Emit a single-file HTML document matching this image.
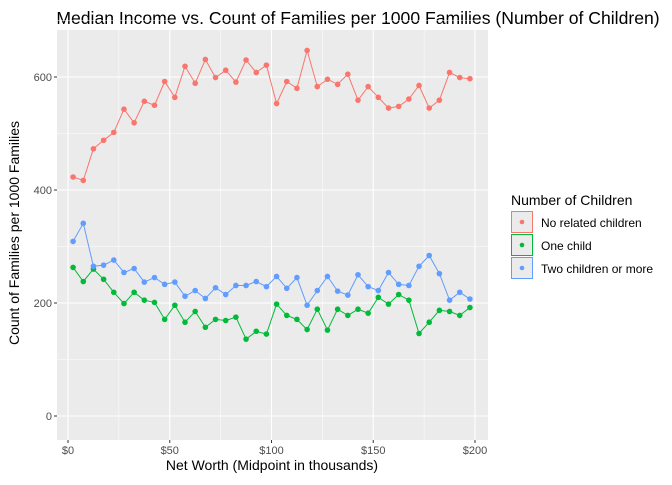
<!DOCTYPE html>
<html><head><meta charset="utf-8"><style>
body{margin:0;background:#fff;}
svg text{font-family:"Liberation Sans",Arial,sans-serif;}
</style></head><body>
<svg width="672" height="480" xmlns="http://www.w3.org/2000/svg">
<rect x="0" y="0" width="672" height="480" fill="#fff"/>
<text x="358" y="24" font-size="17.6" text-anchor="middle" fill="#000">Median Income vs. Count of Families per 1000 Families (Number of Children)</text>
<rect x="57" y="30" width="431" height="410" fill="#ebebeb"/>
<g id="grid"></g>
<g id="series"></g>
<g id="axes"></g>
<text x="272" y="470" font-size="14" text-anchor="middle" fill="#000">Net Worth (Midpoint in thousands)</text>
<text transform="translate(19,233) rotate(-90)" font-size="14" text-anchor="middle" fill="#000">Count of Families per 1000 Families</text>
<g>
<text x="511" y="205" font-size="14" fill="#000">Number of Children</text>
<g>
<rect x="511.5" y="211.5" width="21" height="21" fill="#ebebeb" stroke="#F8766D"/>
<circle cx="522" cy="222" r="2.3" fill="#F8766D"/>
<text x="541" y="227" font-size="12" fill="#000">No related children</text></g>
<g>
<rect x="511.5" y="234.5" width="21" height="21" fill="#ebebeb" stroke="#00BA38"/>
<circle cx="522" cy="245" r="2.3" fill="#00BA38"/>
<text x="541" y="250" font-size="12" fill="#000">One child</text></g>
<g>
<rect x="511.5" y="257.5" width="21" height="21" fill="#ebebeb" stroke="#619CFF"/>
<circle cx="522" cy="268" r="2.3" fill="#619CFF"/>
<text x="541" y="273" font-size="12" fill="#000">Two children or more</text></g>
</g>
</svg>
<script>
const xValues = [2.5,7.5,12.5,17.5,22.5,27.5,32.5,37.5,42.5,47.5,52.5,57.5,62.5,67.5,72.5,77.5,82.5,87.5,92.5,97.5,102.5,107.5,112.5,117.5,122.5,127.5,132.5,137.5,142.5,147.5,152.5,157.5,162.5,167.5,172.5,177.5,182.5,187.5,192.5,197.5];
const noChildren = [423,417,473,488,502,543,519,557,550,592,564,619,589,631,599,612,591,630,608,621,553,592,580,647,583,596,587,605,559,583,564,545,548,561,585,545,559,608,599,597];
const oneChild = [263,238,260,242,219,199,219,205,201,171,196,166,185,157,171,169,175,136,150,145,198,178,171,153,189,152,189,178,189,182,210,198,215,205,146,166,187,185,178,192];
const twoOrMore = [309,341,265,267,276,254,261,237,245,233,237,212,222,208,227,215,231,231,238,229,247,226,245,196,222,247,221,214,250,229,222,254,233,231,265,284,252,205,219,207];
const yTicks = [0,200,400,600];
const yTickLabels = ["0","200","400","600"];
const xTicks = [0,50,100,150,200];
const xTickLabels = ["$0","$50","$100","$150","$200"];

const NS="http://www.w3.org/2000/svg";
const px0=57, px1=488, py0=30, py1=440;
const xScale = v => 68 + v*(475-68)/200;
const yScale = v => 416 - v*(416-303)/200;
function mk(tag, attrs, parent){const e=document.createElementNS(NS,tag);for(const k in attrs)e.setAttribute(k,attrs[k]);parent.appendChild(e);return e;}
const grid=document.getElementById('grid'), axes=document.getElementById('axes'), ser=document.getElementById('series');
for(let i=0;i<xTicks.length-1;i++){const v=(xTicks[i]+xTicks[i+1])/2;const l=mk('line',{x1:xScale(v),x2:xScale(v),y1:py0,y2:py1,stroke:'#fff','stroke-width':0.5},grid);

}
for(let i=0;i<yTicks.length;i++){const v=yTicks[i]+100;const l=mk('line',{x1:px0,x2:px1,y1:yScale(v),y2:yScale(v),stroke:'#fff','stroke-width':0.5},grid);

}
xTicks.forEach((v,i)=>{const x=xScale(v);
const l=mk('line',{x1:x,x2:x,y1:py0,y2:py1,stroke:'#fff','stroke-width':1.1},grid);


mk('line',{x1:x,x2:x,y1:py1,y2:py1+3,stroke:'#333','stroke-width':1},axes);
const t=mk('text',{x:x,y:py1+14,'font-size':11,'text-anchor':'middle',fill:'#4d4d4d'},axes);t.textContent=xTickLabels[i];

});
yTicks.forEach((v,i)=>{const y=yScale(v);
const l=mk('line',{x1:px0,x2:px1,y1:y,y2:y,stroke:'#fff','stroke-width':1.1},grid);


mk('line',{x1:px0-3,x2:px0,y1:y,y2:y,stroke:'#333','stroke-width':1},axes);
const t=mk('text',{x:px0-5,y:y+4,'font-size':11,'text-anchor':'end',fill:'#4d4d4d'},axes);t.textContent=yTickLabels[i];

});
function drawSeries(vals,color,name){
const g=mk('g',{},ser);


const pts=vals.map((v,i)=>xScale(xValues[i]).toFixed(1)+','+yScale(v).toFixed(1)).join(' ');
const pl=mk('polyline',{points:pts,fill:'none',stroke:color,'stroke-width':1},g);


vals.forEach((v,i)=>{const c=mk('circle',{cx:xScale(xValues[i]),cy:yScale(v),r:2.8,fill:color},g);

});
}
drawSeries(noChildren,'#F8766D','no-related-children');
drawSeries(oneChild,'#00BA38','one-child');
drawSeries(twoOrMore,'#619CFF','two-children-or-more');
</script>
</body></html>
